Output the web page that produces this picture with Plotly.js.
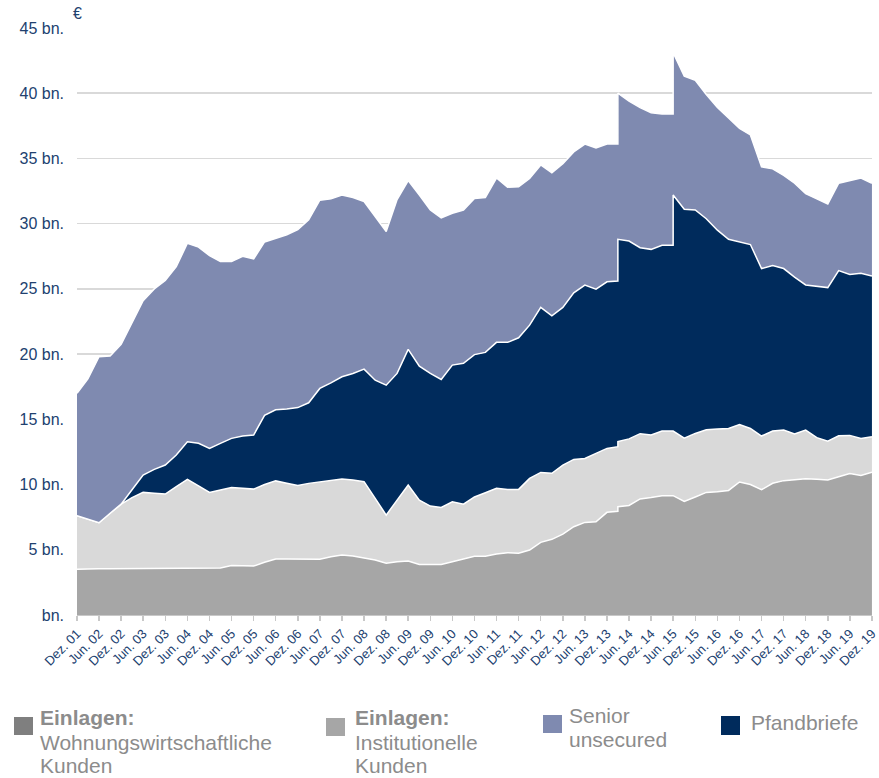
<!DOCTYPE html>
<html><head><meta charset="utf-8">
<script src="https://cdn.plot.ly/plotly-3.0.1.min.js"></script>
<style>html,body{margin:0;padding:0;background:#fff}#chart{width:879px;height:778px}</style>
</head><body><div id="chart"></div>
<script>
// Stichtage (quarterly); 2014-03 and 2015-06 appear twice (step changes)
const stichtag = [
 '2001-12','2002-03','2002-06','2002-09','2002-12',
 '2003-03','2003-06','2003-09','2003-12',
 '2004-03','2004-06','2004-09','2004-12',
 '2005-03','2005-06','2005-09','2005-12',
 '2006-03','2006-06','2006-09','2006-12',
 '2007-03','2007-06','2007-09','2007-12',
 '2008-03','2008-06','2008-09','2008-12',
 '2009-03','2009-06','2009-09','2009-12',
 '2010-03','2010-06','2010-09','2010-12',
 '2011-03','2011-06','2011-09','2011-12',
 '2012-03','2012-06','2012-09','2012-12',
 '2013-03','2013-06','2013-09','2013-12',
 '2014-03','2014-03','2014-06','2014-09','2014-12',
 '2015-03','2015-06','2015-06','2015-09','2015-12',
 '2016-03','2016-06','2016-09','2016-12',
 '2017-03','2017-06','2017-09','2017-12',
 '2018-03','2018-06','2018-09','2018-12',
 '2019-03','2019-06','2019-09','2019-12'
];

// Values in EUR bn
const einlagenWohnungswirtschaft = [
 3.5,3.55,3.55,3.55,3.55,3.6,3.6,3.6,3.55,3.55,
 3.6,3.55,3.55,3.6,3.8,3.75,3.75,4.05,4.3,4.3,
 4.3,4.3,4.28,4.47,4.6,4.52,4.39,4.21,3.96,4.09,
 4.14,3.88,3.88,3.88,4.09,4.27,4.5,4.5,4.67,4.78,
 4.73,4.98,5.57,5.8,6.2,6.77,7.1,7.15,7.87,
 7.95,8.3,
 8.4,8.9,9.0,9.15,
 9.15,9.15,
 8.7,9.05,9.4,9.45,9.55,10.2,10.0,9.6,10.1,10.3,10.35,10.45,10.4,10.35,10.6,10.85,10.7,10.95
];
const einlagenInstitutionelle = [
 4.12,3.8,3.52,4.25,4.95,5.4,5.8,5.73,5.72,6.3,
 6.8,6.35,5.85,5.98,5.98,5.97,5.9,5.95,5.98,5.8,
 5.63,5.79,5.94,5.87,5.82,5.82,5.83,4.73,3.7,4.72,
 5.82,4.93,4.47,4.37,4.59,4.23,4.55,4.87,5.04,4.85,
 4.9,5.49,5.36,5.06,5.29,5.16,4.9,5.24,4.9,
 4.95,5.0,
 5.1,5.0,4.8,4.95,
 4.95,4.95,
 4.85,4.87,4.8,4.8,4.75,4.4,4.3,4.12,4.0,3.88,3.52,3.73,3.2,2.98,3.14,2.92,2.84,2.71
];
const pfandbriefe = [
 0,0,0,0,0,0.6,1.33,1.83,2.23,2.41,
 2.88,3.26,3.37,3.58,3.76,4.0,4.15,5.3,5.45,5.7,
 5.97,6.18,7.15,7.46,7.84,8.18,8.63,9.06,9.96,9.71,
 10.4,10.27,10.17,9.81,10.48,10.8,10.91,10.76,11.19,11.27,
 11.62,11.75,12.65,12.08,12.09,12.77,13.29,12.59,12.77,
 12.7,15.5,
 15.17,14.26,14.23,14.24,
 14.24,18.1,
 17.55,17.13,16.18,15.25,14.5,14.0,14.1,12.84,12.7,12.38,12.03,11.12,11.6,11.77,12.66,12.33,12.66,12.32
];
const seniorUnsecured = [
 9.38,10.75,12.73,12.05,12.25,12.8,13.37,13.84,14.15,14.44,
 15.22,15.04,14.78,13.94,13.56,13.78,13.5,13.3,13.12,13.35,
 13.65,14.03,14.43,14.1,13.94,13.48,12.85,12.55,11.78,13.33,
 12.94,13.12,12.53,12.39,11.64,11.75,11.97,11.87,12.6,11.9,
 11.57,11.24,10.92,10.96,11.02,10.8,10.81,10.82,10.56,
 10.5,11.2,
 10.73,10.74,10.47,10.06,
 10.06,10.9,
 10.2,9.95,9.52,9.4,9.3,8.7,8.4,7.79,7.4,7.14,7.2,7.0,6.7,6.4,6.7,7.2,7.3,7.12
];

const tickDates = [
 '2001-12','2002-06','2002-12','2003-06','2003-12','2004-06','2004-12','2005-06','2005-12',
 '2006-06','2006-12','2007-06','2007-12','2008-06','2008-12','2009-06','2009-12','2010-06','2010-12',
 '2011-06','2011-12','2012-06','2012-12','2013-06','2013-12','2014-06','2014-12','2015-06','2015-12',
 '2016-06','2016-12','2017-06','2017-12','2018-06','2018-12','2019-06','2019-12'
];
const tickLabels = [
 'Dez. 01','Jun. 02','Dez. 02','Jun. 03','Dez. 03','Jun. 04','Dez. 04','Jun. 05','Dez. 05',
 'Jun. 06','Dez. 06','Jun. 07','Dez. 07','Jun. 08','Dez. 08','Jun. 09','Dez. 09','Jun. 10','Dez. 10',
 'Jun. 11','Dez. 11','Jun. 12','Dez. 12','Jun. 13','Dez. 13','Jun. 14','Dez. 14','Jun. 15','Dez. 15',
 'Jun. 16','Dez. 16','Jun. 17','Dez. 17','Jun. 18','Dez. 18','Jun. 19','Dez. 19'
];
const yTickVals = [0,5,10,15,20,25,30,35,40,45];
const yTickText = ['bn.','5 bn.','10 bn.','15 bn.','20 bn.','25 bn.','30 bn.','35 bn.','40 bn.','45 bn.'];

const seriesNames = ['Einlagen: Wohnungswirtschaftliche Kunden','Einlagen: Institutionelle Kunden','Pfandbriefe','Senior unsecured'];
const seriesValues = [einlagenWohnungswirtschaft, einlagenInstitutionelle, pfandbriefe, seniorUnsecured];
const areaColors = ['#a6a6a6','#d9d9d9','#002b5c','#7f8ab0'];

const navyText = '#21416f';
const greyText = '#8c8c8c';

// build stacked traces (cumulative sums of the series)
let cum = stichtag.map(() => 0);
const traces = seriesValues.map((vals, k) => {
  cum = cum.map((c, i) => c + vals[i]);
  return {
    x: stichtag, y: cum.slice(), name: seriesNames[k], type: 'scatter', mode: 'lines',
    line: {color: '#ffffff', width: 1.5, shape: 'linear'},
    fill: k === 0 ? 'tozeroy' : 'tonexty', fillcolor: areaColors[k],
    hoverinfo: 'skip', showlegend: false
  };
});

// pixel helpers for legend placement
const L = 77, T = 28, R = 7, W = 879 - 77 - R, H = 587;
const px = v => (v - L) / W;
const py = v => (T + H - v) / H;

const legendItems = [
  {color: '#7f7f7f', box: [14, 717, 33, 735], x: 38, lines: [['<b>Einlagen:</b>', 717], ['Wohnungswirtschaftliche', 742], ['Kunden', 766]]},
  {color: '#a6a6a6', box: [326, 718, 345, 736], x: 353, lines: [['<b>Einlagen:</b>', 717], ['Institutionelle', 742], ['Kunden', 766]]},
  {color: '#7f8ab0', box: [543, 715, 562, 733], x: 567, lines: [['Senior', 715], ['unsecured', 739]]},
  {color: '#002b5c', box: [721, 716, 740, 735], x: 749, lines: [['Pfandbriefe', 722]]}
];

const shapes = legendItems.map(it => ({
  type: 'rect', xref: 'paper', yref: 'paper',
  x0: px(it.box[0]), x1: px(it.box[2]), y0: py(it.box[3]), y1: py(it.box[1]),
  fillcolor: it.color, line: {width: 0}
}));
const annotations = [];
legendItems.forEach(it => it.lines.forEach(([t, y]) => annotations.push({
  xref: 'paper', yref: 'paper', x: px(it.x), y: py(y), xanchor: 'left', yanchor: 'middle',
  text: t, showarrow: false, font: {size: 21, color: greyText, family: 'Liberation Sans, Arial, sans-serif'}
})));
annotations.push({xref: 'paper', yref: 'paper', x: px(77), y: py(14), xanchor: 'center', yanchor: 'middle',
  text: '€', showarrow: false, font: {size: 16, color: navyText}});

const layout = {
  width: 879, height: 778,
  margin: {l: L, r: R, t: T, b: 778 - T - H},
  paper_bgcolor: '#ffffff', plot_bgcolor: '#ffffff',
  font: {family: 'Liberation Sans, Arial, sans-serif', color: navyText},
  showlegend: false,
  xaxis: {
    type: 'date', range: ['2001-12-01', '2019-12-01 12:00'],
    tickmode: 'array', tickvals: tickDates, ticktext: tickLabels, tickangle: -45,
    tickfont: {size: 13, color: navyText}, ticklabeloverflow: 'allow',
    ticks: 'outside', ticklen: 5, tickwidth: 1.5, tickcolor: '#c8c8c8',
    showgrid: false, zeroline: false, showline: true, linecolor: '#c8c8c8', linewidth: 1
  },
  yaxis: {
    range: [0, 45], tickmode: 'array', tickvals: yTickVals, ticktext: yTickText,
    tickfont: {size: 16, color: navyText}, ticks: '', ticklabelstandoff: 12,
    showgrid: true, gridcolor: '#d9d9d9', gridwidth: 1.5, zeroline: false, showline: false
  },
  shapes: shapes,
  annotations: annotations
};

Plotly.newPlot('chart', traces, layout, {staticPlot: true, displayModeBar: false});
</script>
</body></html>
